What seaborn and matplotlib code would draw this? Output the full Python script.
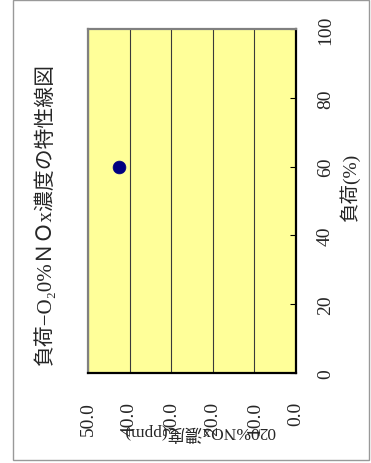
import matplotlib
matplotlib.use("Agg")
import matplotlib.pyplot as plt
import seaborn as sns
import pandas as pd
from matplotlib.patches import Rectangle

# Data
load_pct = [60]          # 負荷(%)
nox_ppm = [42.5]         # O2 0% NOx濃度(ppm)
load_ticks = [0, 20, 40, 60, 80, 100]
nox_ticks = [0, 10, 20, 30, 40, 50]
nox_ticklabels = ["0.0", "10.0", "20.0", "30.0", "40.0", "50.0"]
title_text = "負荷−O₂0%ＮＯx濃度の特性線図"
load_label = "負荷(%)"
nox_label = "020%NOx濃度(ppm)"

sns.set_theme(style="white")
plt.rcParams['font.family'] = ['Liberation Serif', 'DejaVu Serif', 'Noto Sans CJK JP']

df = pd.DataFrame({"nox": nox_ppm, "load": load_pct})

W, H = 371, 464
fig = plt.figure(figsize=(W / 100, H / 100), dpi=100)
fig.patch.set_facecolor("white")
ax = fig.add_axes([88 / W, 1 - 374 / H, (296 - 88) / W, (374 - 30) / H])
ax.set_facecolor("#FFFF99")

sns.scatterplot(data=df, x="nox", y="load", ax=ax, s=85, color="#000080",
                edgecolor="#000080", linewidth=0.5, zorder=5)

ax.set_xlim(50, 0)
ax.set_ylim(0, 100)

# NOx axis (bottom, rotated)
ax.set_xticks(nox_ticks)
ax.set_xticklabels(nox_ticklabels, rotation=90, va="top", ha="center", fontsize=14)
ax.tick_params(axis="x", length=0, pad=20)
ax.grid(axis="x", color="#3a3a3a", linewidth=0.8)
ax.grid(axis="y", visible=False)

# Load axis (right)
ax.yaxis.tick_right()
ax.set_yticks(load_ticks)
ax.set_yticklabels([str(t) for t in load_ticks], rotation=90, va="center", ha="left",
                   fontsize=14)
ax.tick_params(axis="y", direction="in", length=4, width=0.8, color="black", pad=15,
               right=True, left=False)

ax.set_xlabel(nox_label, rotation=180, fontsize=12.5, va="center", ha="center")
ax.xaxis.set_label_coords((200 - 88) / 208, -(433 - 374) / 344)
ax.yaxis.set_label_position("right")
ax.set_ylabel(load_label, rotation=90, fontsize=14, va="center", ha="center")
ax.yaxis.set_label_coords((350 - 88) / 208, (374 - 188) / 344)

for side in ["left", "top"]:
    ax.spines[side].set_color("#808080")
    ax.spines[side].set_linewidth(1.6)
for side in ["right", "bottom"]:
    ax.spines[side].set_color("black")
    ax.spines[side].set_linewidth(1.6)

fig.text(45 / W, 1 - 214 / H, title_text, rotation=90, ha="center", va="center",
         fontsize=15)

fig.patches.append(Rectangle((13 / W, 1 - 461 / H), (369 - 13) / W, (461 - 1) / H,
                             transform=fig.transFigure, fill=False,
                             edgecolor="#999999", linewidth=1))

fig.savefig("out.png", dpi=100)
